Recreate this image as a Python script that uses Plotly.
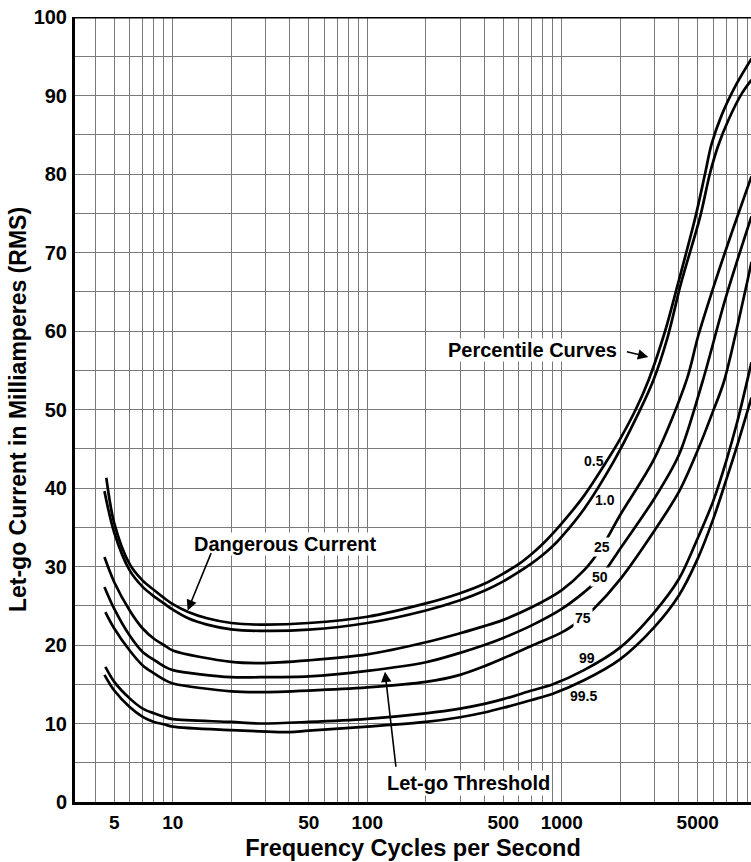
import math
import plotly.graph_objects as go

# ---------------- data ----------------
freq_p0_5 = [4.55, 5, 6, 7, 8, 9, 10, 12, 15, 20, 28, 50, 100, 200, 300, 400, 500, 600, 700, 800,
             1000, 1300, 1700, 2000, 2400, 2800, 3400, 3955, 4865, 5450, 5890, 6640, 7930, 9450]
curr_p0_5 = [41.3, 35.5, 30.3, 28.2, 27.0, 26.0, 25.2, 24.2, 23.4, 22.8, 22.6, 22.8, 23.6, 25.3, 26.6, 27.8, 29.1, 30.3, 31.6, 32.9,
             35.5, 39.0, 43.4, 46.3, 50.0, 53.8, 60.0, 66.0, 74.5, 80.0, 83.8, 87.5, 91.5, 94.7]

freq_p1_0 = [4.45, 5, 6, 7, 8, 9, 10, 12, 15, 20, 28, 50, 100, 200, 300, 400, 500, 600, 700, 800, 900,
             1000, 1300, 1850, 2400, 2965, 3500, 4095, 5140, 5770, 6370, 7230, 8450, 9450]
curr_p1_0 = [39.6, 34.3, 29.5, 27.4, 26.2, 25.3, 24.5, 23.4, 22.6, 22.0, 21.8, 21.95, 22.8, 24.4, 25.7, 26.9, 28.1, 29.3, 30.4, 31.5, 32.6,
             33.8, 37.3, 43.4, 48.8, 53.8, 59.2, 66.0, 74.5, 80.0, 83.6, 87.0, 90.3, 92.0]

freq_p25 = [4.45, 5, 6, 7, 8, 9, 10, 20, 28, 50, 100, 200, 300, 400, 500, 700, 1000,
            1300, 1608, 2000, 3000, 4390, 5020, 6120, 7570, 9450]
curr_p25 = [31.2, 28.0, 24.4, 22.1, 20.8, 20.0, 19.3, 17.85, 17.7, 18.05, 18.8, 20.35, 21.5, 22.4, 23.2, 24.8, 27.0,
            29.5, 32.5, 36.6, 43.8, 53.8, 59.3, 66.1, 72.9, 79.7]

freq_p50 = [4.45, 5, 6, 7, 8, 9, 10, 20, 28, 50, 100, 200, 300, 400, 500, 700, 1000,
            1300, 1576, 2000, 3000, 4000, 5300, 6920, 9450]
curr_p50 = [27.4, 24.6, 21.2, 19.1, 18.1, 17.3, 16.8, 15.9, 15.9, 16.0, 16.7, 17.8, 19.0, 20.0, 20.9, 22.5, 24.6,
            26.7, 28.6, 32.3, 38.7, 44.2, 53.6, 64.0, 74.6]

freq_p75 = [4.5, 5, 6, 7, 8, 9, 10, 20, 28, 50, 100, 200, 300, 400, 500, 700, 1000,
            1283, 1460, 2000, 3000, 4000, 5000, 6000, 6830, 8650, 9450]
curr_p75 = [24.2, 22.1, 19.3, 17.4, 16.4, 15.6, 15.1, 14.1, 14.0, 14.2, 14.6, 15.3, 16.2, 17.3, 18.3, 19.9, 21.6,
            23.4, 24.6, 28.4, 34.6, 39.5, 44.8, 49.8, 53.6, 64.4, 68.8]

freq_p99 = [4.5, 5, 6, 7, 8, 9, 10, 20, 28, 50, 100, 200, 300, 400, 500, 700, 900,
            1300, 2000, 3000, 4000, 5000, 6000, 7000, 8000, 9450]
curr_p99 = [17.2, 15.3, 13.2, 11.9, 11.3, 10.85, 10.55, 10.2, 10.0, 10.2, 10.6, 11.3, 11.9, 12.5, 13.1, 14.2, 15.0,
            16.8, 19.7, 24.2, 28.4, 33.6, 38.3, 43.4, 48.5, 56.0]

freq_p99_5 = [4.45, 5, 6, 7, 8, 9, 10, 20, 28, 40, 50, 100, 200, 300, 400, 500, 700, 900,
              1300, 2000, 3000, 4000, 5000, 6000, 7000, 8000, 9450]
curr_p99_5 = [16.2, 14.2, 12.1, 10.85, 10.2, 9.9, 9.6, 9.15, 9.0, 8.9, 9.1, 9.6, 10.2, 10.8, 11.4, 12.0, 13.0, 13.8,
              15.5, 18.2, 22.3, 26.3, 31.0, 36.0, 41.0, 45.5, 51.5]

curve_names = ["0.5", "1.0", "25", "50", "75", "99", "99.5"]
curve_freqs = [freq_p0_5, freq_p1_0, freq_p25, freq_p50, freq_p75, freq_p99, freq_p99_5]
curve_currs = [curr_p0_5, curr_p1_0, curr_p25, curr_p50, curr_p75, curr_p99, curr_p99_5]

# curve label anchor points (frequency, current); labels sitting on a curve break it
label_freq = [1456, 1672, 1608, 1576, 1283, 1355, 1293]
label_curr = [43.5, 38.5, 32.5, 28.6, 23.4, 18.4, 13.5]
label_breaks = [False, False, True, True, True, False, False]

x_tick_vals = [5, 10, 50, 100, 500, 1000, 5000]
x_tick_text = ["5", "10", "50", "100", "500", "1000", "5000"]
x_grid_vals = [m * 10 ** e for e in range(0, 4) for m in range(1, 10) if 4 <= m * 10 ** e <= 9000]
y_tick_vals = list(range(0, 101, 10))

FONT = "Liberation Sans, Arial, Helvetica, sans-serif"
GRID = "#7a7a7a"

fig = go.Figure()
for f, c, n in zip(curve_freqs, curve_currs, curve_names):
    fig.add_trace(go.Scatter(
        x=f, y=c, mode="lines", name=n, showlegend=False, hoverinfo="skip",
        line=dict(color="black", width=2.7, shape="spline", smoothing=0.9),
    ))

annotations = []
for n, lf, lc, br in zip(curve_names, label_freq, label_curr, label_breaks):
    annotations.append(dict(
        x=math.log10(lf), y=lc, xref="x", yref="y", text=n, showarrow=False,
        font=dict(family=FONT, size=14, color="black", weight="bold"),
        bgcolor="white" if br else "rgba(0,0,0,0)", borderpad=1,
    ))

# text labels
annotations += [
    dict(x=math.log10(37.8), y=32.9, xref="x", yref="y", text="Dangerous Current", showarrow=False,
         font=dict(family=FONT, size=20, color="black", weight="bold"), bgcolor="white", borderpad=0),
    dict(x=math.log10(711), y=57.6, xref="x", yref="y", text="Percentile Curves", showarrow=False,
         font=dict(family=FONT, size=20, color="black", weight="bold"), bgcolor="white", borderpad=0),
    dict(x=math.log10(333), y=2.4, xref="x", yref="y", text="Let-go Threshold", showarrow=False,
         font=dict(family=FONT, size=20, color="black", weight="bold"), bgcolor="white", borderpad=1),
]

# arrows (tail -> tip)
arrow_specs = [
    ((15.85, 31.9), (11.92, 24.4)),
    ((2123, 57.4), (2786, 56.7)),
    ((140.6, 4.3), (123.3, 16.6)),
]
for (tf, tc), (hf, hc) in arrow_specs:
    annotations.append(dict(
        x=math.log10(hf), y=hc, ax=math.log10(tf), ay=tc, xref="x", yref="y", axref="x", ayref="y",
        text="", showarrow=True, arrowhead=2, arrowsize=1.3, arrowwidth=1.6, arrowcolor="black", standoff=0,
    ))

fig.update_layout(
    width=751, height=862,
    margin=dict(l=75, r=0, t=17, b=60),
    paper_bgcolor="white", plot_bgcolor="white",
    font=dict(family=FONT, color="black", weight="bold"),
    annotations=annotations,
    shapes=[dict(type="line", xref="paper", yref="y", x0=0, x1=1, y0=100, y1=100,
                 line=dict(color="black", width=3), layer="above")],
)

fig.update_xaxes(
    type="log", range=[0.497, 3.973],
    tickvals=x_tick_vals, ticktext=x_tick_text, ticks="", ticklabelstandoff=1,
    tickfont=dict(family=FONT, size=19, color="black", weight="bold"),
    showgrid=True, gridcolor=GRID, gridwidth=1.2,
    minor=dict(tickvals=x_grid_vals, showgrid=True, gridcolor=GRID, gridwidth=1.2, ticks=""),
    showline=True, linecolor="black", linewidth=3, zeroline=False,
    title=dict(text="Frequency Cycles per Second", standoff=8,
               font=dict(family=FONT, size=23.5, color="black", weight="bold")),
)
fig.update_yaxes(
    range=[0, 100], tickvals=y_tick_vals, ticks="", ticklabelstandoff=1,
    tickfont=dict(family=FONT, size=20, color="black", weight="bold"),
    showgrid=True, gridcolor=GRID, gridwidth=1.2,
    minor=dict(dtick=5, showgrid=True, gridcolor=GRID, gridwidth=1.2, ticks=""),
    showline=True, linecolor="black", linewidth=3, zeroline=False,
    title=dict(text="Let-go Current in Milliamperes (RMS)", standoff=1,
               font=dict(family=FONT, size=23, color="black", weight="bold")),
)

fig.write_html("out.html")
